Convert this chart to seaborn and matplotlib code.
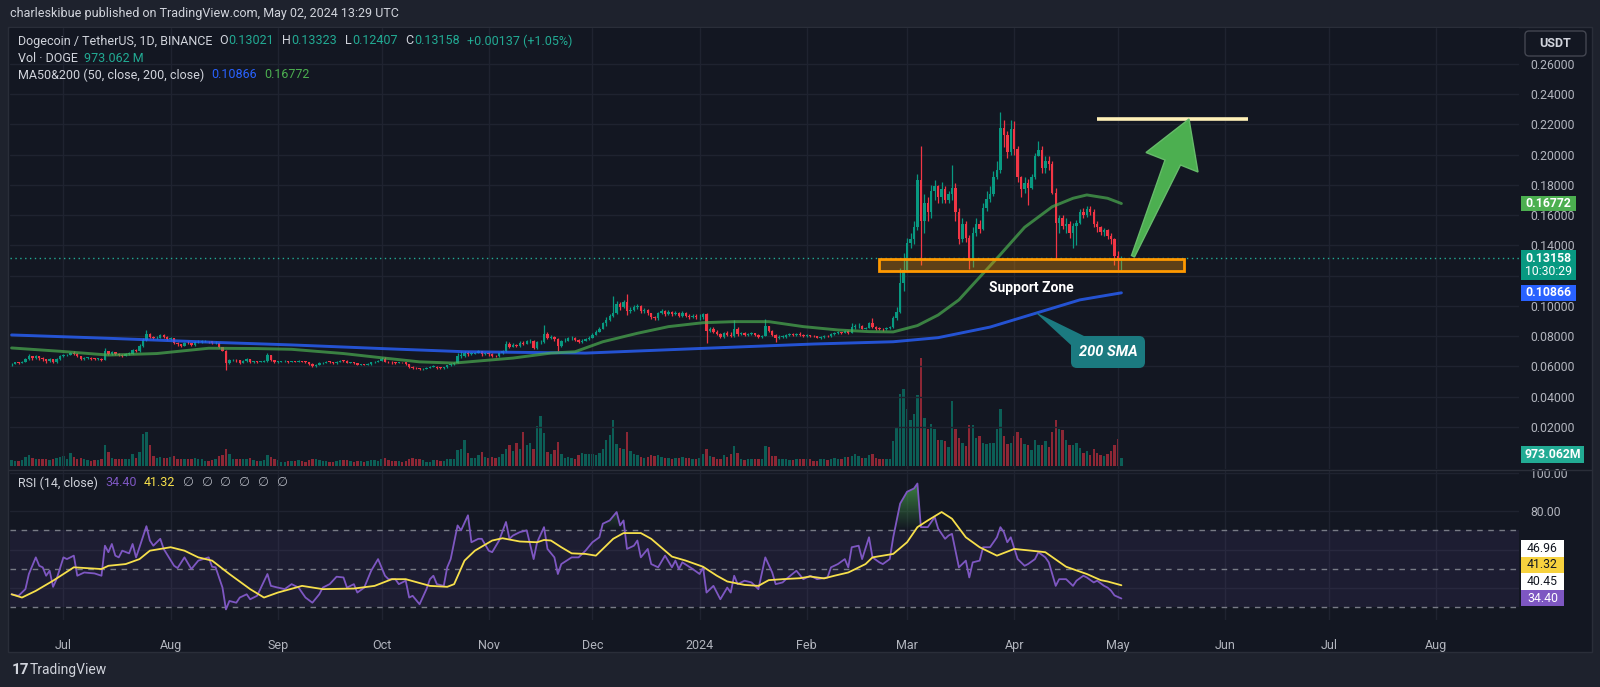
import numpy as np
import pandas as pd
import matplotlib
matplotlib.use("Agg")
import matplotlib.pyplot as plt
import matplotlib.transforms as mtransforms
from matplotlib.patches import Rectangle, Polygon, FancyBboxPatch
from matplotlib.path import Path
from matplotlib.colors import LinearSegmentedColormap
import seaborn as sns

# ---------------- data (DOGE/USDT daily, 2023-06-16 .. 2024-05-02) ----------------
start_date = "2023-06-16"
first_open = 0.0614

closes = [
    # Jun 16-30
    .0617, .0628, .0624, .0630, .0650, .0668, .0654, .0668, .0655, .0646, .0634, .0649, .0628, .0651, .0667,
    # Jul
    .0673, .0677, .0690, .0684, .0668, .0647, .0657, .0657, .0652, .0651, .0652, .0643, .0700, .0681, .0693, .0684,
    .0676, .0671, .0683, .0685, .0710, .0702, .0738, .0775, .0812, .0795, .0786, .0790, .0808, .0797, .0780,
    # Aug
    .0786, .0752, .0745, .0738, .0758, .0754, .0739, .0759, .0762, .0766, .0768, .0765, .0754, .0758, .0725, .0705,
    .0625, .0640, .0642, .0640, .0624, .0637, .0650, .0630, .0633, .0630, .0632, .0636, .0674, .0642, .0630,
    # Sep
    .0632, .0634, .0636, .0629, .0633, .0632, .0636, .0630, .0629, .0617, .0601, .0612, .0620, .0625, .0630,
    .0629, .0620, .0630, .0639, .0637, .0625, .0628, .0620, .0612, .0613, .0612, .0615, .0626, .0628, .0636,
    # Oct
    .0652, .0630, .0628, .0627, .0621, .0628, .0627, .0613, .0596, .0592, .0587, .0580, .0585, .0590, .0596, .0599,
    .0591, .0589, .0594, .0607, .0615, .0624, .0670, .0672, .0688, .0683, .0685, .0691, .0699, .0685, .0687,
    # Nov
    .0683, .0670, .0668, .0690, .0700, .0750, .0730, .0740, .0735, .0755, .0750, .0765, .0770, .0720, .0760,
    .0760, .0815, .0790, .0795, .0780, .0735, .0765, .0770, .0785, .0790, .0775, .0760, .0770, .0780, .0790,
    # Dec
    .0810, .0830, .0850, .0885, .0905, .0935, .0950, .1010, .0995, .1025, .0965, .0975, .0995, .1000, .0965, .0975,
    .0950, .0925, .0920, .0950, .0965, .0945, .0960, .0945, .0955, .0935, .0955, .0935, .0925, .0935, .0925,
    # Jan
    .0930, .0945, .0835, .0850, .0830, .0815, .0795, .0820, .0810, .0800, .0850, .0815, .0820, .0810, .0812, .0818,
    .0810, .0795, .0800, .0865, .0835, .0810, .0785, .0795, .0795, .0805, .0812, .0805, .0815, .0810, .0800,
    # Feb
    .0805, .0800, .0798, .0790, .0792, .0800, .0798, .0815, .0820, .0825, .0822, .0835, .0822, .0860, .0865,
    .0870, .0850, .0855, .0885, .0862, .0850, .0848, .0845, .0855, .0860, .0920, .0960, .1150, .1240,
    # Mar
    .1415, .1440, .1520, .1830, .1560, .1680, .1620, .1760, .1790, .1720, .1770, .1700, .1740, .1780, .1620, .1440,
    .1540, .1450, .1310, .1480, .1540, .1510, .1650, .1710, .1740, .1850, .1900, .2180, .2130, .2020, .2170,
    # Apr
    .2040, .1850, .1770, .1810, .1780, .1850, .1990, .2030, .1910, .1960, .1940, .1750, .1550, .1580, .1530,
    .1540, .1480, .1530, .1550, .1620, .1600, .1640, .1620, .1540, .1520, .1490, .1500, .1460, .1440, .1330,
    # May 1-2
    .13021, .13158,
]

highs = [
    .0622, .0632, .0631, .0633, .0655, .0680, .0672, .0678, .0670, .0660, .0650, .0655, .0652, .0655, .0675,
    .0680, .0685, .0695, .0700, .0688, .0670, .0662, .0663, .0660, .0658, .0658, .0656, .0720, .0705, .0700, .0698,
    .0690, .0680, .0690, .0692, .0715, .0712, .0745, .0790, .0840, .0818, .0800, .0798, .0815, .0812, .0800,
    .0795, .0790, .0760, .0750, .0762, .0765, .0758, .0765, .0775, .0772, .0772, .0770, .0768, .0765, .0760, .0728,
    .0708, .0648, .0650, .0650, .0642, .0640, .0655, .0652, .0638, .0636, .0636, .0640, .0690, .0675, .0645,
    .0638, .0638, .0640, .0638, .0637, .0637, .0640, .0638, .0633, .0632, .0620, .0618, .0626, .0630, .0636,
    .0634, .0632, .0634, .0645, .0645, .0640, .0632, .0630, .0622, .0618, .0616, .0620, .0632, .0634, .0640,
    .0660, .0665, .0638, .0635, .0632, .0632, .0632, .0630, .0614, .0600, .0595, .0590, .0590, .0594, .0600, .0612,
    .0602, .0595, .0598, .0612, .0620, .0628, .0690, .0700, .0700, .0700, .0692, .0698, .0710, .0702, .0695,
    .0692, .0688, .0678, .0695, .0708, .0765, .0760, .0752, .0748, .0768, .0765, .0772, .0780, .0775, .0768,
    .0775, .0874, .0830, .0805, .0800, .0785, .0772, .0785, .0795, .0800, .0795, .0780, .0780, .0790, .0800,
    .0820, .0840, .0860, .0895, .0925, .0945, .1066, .1030, .1025, .1040, .1080, .0990, .1005, .1015, .1005, .0985,
    .0980, .0955, .0935, .0960, .0980, .0975, .0975, .0965, .0965, .0960, .0965, .0960, .0945, .0945, .0945,
    .0945, .0955, .0950, .0862, .0858, .0838, .0820, .0828, .0835, .0825, .0905, .0860, .0828, .0825, .0820, .0825,
    .0822, .0815, .0808, .0913, .0870, .0840, .0815, .0805, .0805, .0812, .0820, .0818, .0822, .0825, .0815,
    .0815, .0810, .0808, .0800, .0798, .0805, .0808, .0820, .0828, .0832, .0830, .0842, .0840, .0890, .0880,
    .0885, .0872, .0862, .0892, .0920, .0868, .0858, .0855, .0862, .0868, .0935, .0990, .1250, .1350,
    .1450, .1480, .1560, .1870, .2060, .1740, .1720, .1800, .1830, .1800, .1820, .1790, .1760, .1930, .1810, .1650,
    .1580, .1560, .1470, .1520, .1580, .1570, .1680, .1760, .1790, .1890, .1960, .2285, .2230, .2160, .2230,
    .2220, .2060, .1860, .1850, .1840, .1870, .2010, .2090, .2060, .1990, .1990, .1960, .1780, .1600, .1600,
    .1580, .1560, .1550, .1570, .1640, .1650, .1660, .1660, .1640, .1560, .1530, .1515, .1510, .1480, .1450,
    .1360, .13323,
]

lows = [
    .0605, .0613, .0618, .0620, .0628, .0645, .0645, .0650, .0645, .0636, .0625, .0630, .0622, .0625, .0645,
    .0662, .0668, .0675, .0678, .0660, .0640, .0642, .0650, .0645, .0645, .0645, .0638, .0640, .0675, .0678, .0678,
    .0670, .0662, .0668, .0676, .0682, .0695, .0698, .0730, .0765, .0785, .0778, .0780, .0785, .0790, .0775,
    .0772, .0745, .0738, .0730, .0735, .0745, .0735, .0735, .0755, .0758, .0762, .0758, .0750, .0748, .0720, .0700,
    .0577, .0615, .0635, .0630, .0618, .0620, .0630, .0625, .0625, .0625, .0626, .0628, .0632, .0638, .0620,
    .0625, .0628, .0630, .0625, .0626, .0626, .0628, .0626, .0625, .0612, .0595, .0598, .0608, .0617, .0622,
    .0624, .0617, .0618, .0628, .0630, .0620, .0622, .0617, .0608, .0608, .0606, .0609, .0612, .0622, .0626,
    .0634, .0626, .0622, .0618, .0615, .0620, .0622, .0608, .0590, .0585, .0580, .0576, .0578, .0584, .0588, .0594,
    .0585, .0582, .0586, .0590, .0603, .0610, .0620, .0655, .0665, .0672, .0678, .0680, .0688, .0672, .0678,
    .0672, .0665, .0662, .0665, .0685, .0695, .0722, .0725, .0725, .0730, .0740, .0745, .0755, .0712, .0715,
    .0750, .0755, .0780, .0780, .0770, .0705, .0730, .0760, .0765, .0775, .0768, .0752, .0755, .0765, .0775,
    .0785, .0805, .0825, .0845, .0870, .0900, .0925, .0945, .0975, .0985, .0940, .0950, .0965, .0980, .0955, .0955,
    .0940, .0915, .0905, .0910, .0945, .0935, .0940, .0935, .0940, .0925, .0930, .0925, .0915, .0920, .0915,
    .0905, .0915, .0755, .0825, .0822, .0805, .0788, .0790, .0800, .0792, .0795, .0800, .0808, .0802, .0802, .0805,
    .0802, .0788, .0790, .0798, .0825, .0800, .0762, .0778, .0785, .0790, .0800, .0798, .0800, .0802, .0792,
    .0795, .0795, .0792, .0785, .0782, .0788, .0792, .0796, .0810, .0815, .0812, .0818, .0815, .0820, .0845,
    .0855, .0845, .0845, .0852, .0855, .0838, .0840, .0835, .0840, .0850, .0855, .0905, .0950, .1100,
    .1230, .1380, .1410, .1500, .1270, .1480, .1560, .1580, .1700, .1680, .1680, .1680, .1680, .1700, .1560, .1410,
    .1420, .1420, .1243, .1260, .1460, .1480, .1500, .1630, .1690, .1730, .1840, .1880, .2050, .1980, .2000,
    .2000, .1820, .1720, .1750, .1670, .1770, .1840, .1990, .1880, .1880, .1900, .1740, .1320, .1480, .1510,
    .1480, .1450, .1380, .1400, .1540, .1580, .1590, .1600, .1520, .1490, .1470, .1465, .1440, .1410, .1270,
    .1240, .12407,
]

volumes_m = [  # millions of DOGE
    700, 650, 600, 700, 1100, 1300, 1000, 900, 800, 900, 800, 700, 900, 1000, 1100,
    1200, 900, 1600, 1100, 900, 1000, 800, 700, 600, 700, 700, 800, 2500, 1700, 1000, 800,
    800, 800, 900, 900, 1400, 1000, 1700, 3900, 4100, 2500, 1200, 1000, 1100, 1000, 1000,
    1100, 1200, 900, 800, 900, 800, 900, 1000, 900, 800, 600, 600, 700, 800, 1200, 1300,
    2000, 1400, 900, 800, 900, 900, 900, 1000, 700, 600, 600, 700, 1300, 1100, 800,
    700, 500, 500, 600, 600, 600, 700, 600, 500, 700, 900, 800, 700, 600, 600,
    500, 500, 600, 700, 700, 700, 600, 500, 600, 600, 500, 600, 700, 700, 600,
    900, 1000, 700, 600, 600, 600, 500, 600, 800, 1000, 900, 800, 700, 500, 500, 700,
    700, 600, 600, 800, 900, 900, 1900, 2000, 3100, 1600, 1000, 1000, 1300, 1700, 1100,
    1000, 1100, 1000, 1100, 1400, 2000, 2500, 1800, 2800, 2100, 4100, 2500, 2800, 2100, 4800,
    6000, 4000, 1700, 1400, 1900, 2900, 1400, 1000, 1100, 1000, 900, 1300, 1600, 1500, 1400,
    1400, 1300, 1600, 2000, 3100, 3700, 5500, 2600, 2200, 2100, 4100, 1800, 1500, 1300, 1100, 1000,
    1100, 1300, 1200, 1300, 1100, 1000, 1000, 900, 1000, 1000, 1100, 1000, 1000, 800, 800,
    1000, 1500, 2000, 1200, 1100, 800, 800, 1300, 1100, 1400, 2400, 1600, 800, 700, 800, 900,
    800, 900, 900, 2400, 2300, 1200, 1200, 900, 800, 800, 700, 700, 900, 800, 800,
    900, 800, 600, 600, 800, 800, 700, 800, 1000, 900, 800, 1100, 1100, 1200, 1400,
    1200, 1000, 1000, 1300, 1500, 1000, 900, 800, 800, 900, 3000, 4700, 8700, 9200,
    6900, 5500, 6300, 8500, 13000, 5800, 4400, 5100, 4400, 3100, 3100, 3000, 2300, 7800, 4400, 3400,
    2800, 2400, 4900, 4900, 3400, 3600, 2800, 2600, 2800, 2800, 4500, 6800, 3600, 2600, 2800,
    3600, 4100, 3400, 2700, 2500, 1900, 3100, 2500, 2500, 3000, 2300, 4100, 5500, 4500, 4300,
    3100, 2500, 2500, 2800, 2200, 1600, 1800, 1300, 2100, 1600, 1300, 1200, 1500, 1800, 2500,
    3200, 973,
]

ma50_dates = ["2023-06-16", "2023-06-30", "2023-07-14", "2023-07-28", "2023-08-12", "2023-08-26",
              "2023-09-05", "2023-09-20", "2023-10-01", "2023-10-12", "2023-10-22", "2023-11-08",
              "2023-11-19", "2023-11-26", "2023-12-04", "2023-12-14", "2023-12-23", "2024-01-02",
              "2024-01-11", "2024-01-21", "2024-01-31", "2024-02-10", "2024-02-19", "2024-02-26",
              "2024-03-04", "2024-03-10", "2024-03-16", "2024-03-22", "2024-03-28", "2024-04-04",
              "2024-04-12", "2024-04-18", "2024-04-22", "2024-04-28", "2024-05-02"]
ma50_vals = [0.0722, 0.0700, 0.0675, 0.0685, 0.0720, 0.0718, 0.0713, 0.0685, 0.0657, 0.0630, 0.0622,
             0.0655, 0.0688, 0.0697, 0.0763, 0.0819, 0.0863, 0.0889, 0.0896, 0.0896, 0.0863, 0.0841,
             0.0830, 0.0828, 0.0870, 0.0940, 0.1040, 0.1190, 0.1340, 0.1520, 0.1656, 0.1712, 0.1734,
             0.1712, 0.16772]

ma200_dates = ["2023-06-16", "2023-07-15", "2023-08-15", "2023-09-05", "2023-10-01", "2023-10-25",
               "2023-11-29", "2024-01-05", "2024-02-03", "2024-02-26", "2024-03-10", "2024-03-25",
               "2024-04-07", "2024-04-20", "2024-05-02"]
ma200_vals = [0.0808, 0.0785, 0.0758, 0.0742, 0.0718, 0.0697, 0.0688, 0.0722, 0.0748, 0.0763, 0.0790,
              0.0860, 0.0950, 0.1040, 0.10866]

# RSI(14): (bar index from start_date, value)
rsi_idx = [0, 2, 4, 5, 7, 8, 9, 10, 11, 12, 13, 15, 16, 18, 19, 21, 24, 26, 27, 28, 29, 30, 31, 32, 34, 35,
           36, 37, 39, 40, 41, 43, 44, 47, 48, 50, 52, 54, 57, 58, 59, 61, 62, 63, 65, 66, 68, 69, 71, 74,
           75, 77, 79, 81, 83, 85, 87, 89, 90, 92, 94, 96, 97, 99, 100, 102, 104, 106, 108, 109, 111, 112,
           114, 115, 116, 118, 120, 121, 122, 123, 125, 126, 127, 129, 130, 132, 133, 135, 136, 138, 139,
           141, 143, 144, 145, 147, 149, 151, 152, 154, 155, 157, 158, 159, 162, 164, 166, 168, 170, 171,
           173, 175, 176, 177, 178, 180, 181, 182, 184, 185, 187, 189, 191, 192, 193, 194, 197, 199, 200,
           201, 203, 205, 207, 208, 209, 210, 212, 214, 216, 218, 220, 221, 223, 224, 227, 229, 231, 233,
           236, 237, 239, 241, 242, 243, 245, 246, 248, 249, 251, 252, 254, 255, 257, 259, 261, 262, 263,
           265, 267, 268, 270, 271, 272, 274, 276, 277, 278, 280, 281, 283, 285, 286, 287, 288, 289, 291,
           293, 294, 296, 297, 299, 300, 302, 303, 305, 307, 308, 310, 311, 313, 314, 316, 317, 318, 319,
           320, 321]
rsi_vals = [36.6, 35.8, 39.3, 47.2, 55.9, 51.5, 50.7, 46.3, 48.9, 40.5, 44.5, 55.9, 55.0, 56.8, 46.3, 48.0,
            47.5, 46.3, 62.0, 58.6, 62.9, 56.8, 55.9, 59.4, 58.0, 62.9, 55.9, 61.2, 72.2, 64.7, 62.0, 65.6,
            60.3, 51.5, 50.3, 55.9, 49.8, 54.2, 55.9, 51.0, 50.7, 40.1, 28.7, 33.1, 32.2, 34.9, 36.6, 34.0,
            35.8, 47.2, 41.0, 40.1, 39.3, 41.9, 40.1, 34.9, 32.2, 36.6, 40.1, 41.9, 45.8, 45.4, 40.1, 41.9,
            37.5, 40.1, 48.9, 55.0, 46.3, 44.5, 44.5, 41.9, 43.7, 34.9, 35.8, 31.4, 39.3, 44.5, 46.3, 41.9,
            41.0, 50.7, 55.0, 72.6, 70.0, 77.9, 63.8, 65.6, 65.6, 59.4, 58.6, 64.7, 74.4, 65.6, 67.3, 69.1,
            70.0, 55.0, 63.8, 71.7, 60.3, 55.9, 47.2, 52.4, 55.9, 55.9, 59.4, 63.8, 66.4, 73.5, 75.2, 79.6,
            72.6, 75.2, 60.3, 62.0, 64.7, 55.9, 60.3, 52.4, 50.7, 56.8, 50.7, 54.2, 49.8, 53.3, 49.8, 47.2,
            50.7, 37.5, 41.0, 34.0, 40.1, 37.5, 46.3, 41.9, 43.7, 42.8, 39.3, 55.9, 48.0, 41.9, 42.8, 44.5,
            48.9, 44.5, 46.3, 44.5, 45.4, 50.7, 52.4, 55.0, 50.7, 61.2, 62.0, 55.0, 66.4, 55.9, 53.3, 52.4,
            55.0, 66.4, 84.0, 90.2, 91.9, 94.5, 71.7, 71.7, 77.0, 70.9, 65.6, 67.3, 68.2, 50.7, 54.2, 45.4,
            53.3, 54.2, 61.2, 61.2, 66.4, 71.7, 69.1, 63.8, 66.4, 55.0, 51.5, 52.4, 55.0, 58.6, 55.9, 53.3,
            41.0, 44.5, 44.5, 41.0, 43.7, 46.3, 45.4, 42.8, 43.7, 41.0, 40.1, 38.5, 36.0, 35.2, 34.4]

rsi_ma_idx = [0, 3, 7, 12, 18, 26, 28, 33, 37, 40, 46, 50, 54, 58, 63, 69, 73, 77, 84, 90, 99, 105, 110,
              114, 121, 126, 128, 131, 134, 139, 142, 147, 152, 154, 156, 159, 162, 166, 169, 171, 174,
              177, 182, 185, 189, 191, 195, 200, 204, 207, 212, 216, 219, 223, 228, 231, 235, 238, 242,
              247, 249, 255, 259, 262, 265, 269, 272, 276, 280, 285, 290, 295, 299, 305, 311, 315, 317, 321]
rsi_ma_vals = [36.6, 34.9, 38.4, 43.7, 50.7, 49.8, 51.5, 52.4, 55.0, 59.4, 61.2, 59.4, 55.9, 54.2, 47.2,
               39.3, 34.9, 37.5, 41.0, 39.3, 39.6, 41.0, 44.5, 44.5, 41.0, 40.5, 41.9, 54.2, 59.4, 64.7,
               65.9, 64.2, 63.8, 65.0, 64.7, 61.2, 58.0, 57.7, 56.8, 60.3, 65.6, 68.6, 68.6, 65.6, 59.4,
               56.3, 54.2, 51.0, 46.3, 43.3, 41.5, 41.0, 44.0, 44.5, 45.0, 45.9, 44.9, 46.3, 48.0, 52.4,
               55.9, 57.7, 63.8, 71.7, 75.2, 79.6, 76.1, 66.4, 61.2, 56.8, 60.3, 59.4, 58.6, 51.0, 47.2,
               44.0, 43.3, 41.32]

month_dates = ["2023-07-01", "2023-08-01", "2023-09-01", "2023-10-01", "2023-11-01", "2023-12-01",
               "2024-01-01", "2024-02-01", "2024-03-01", "2024-04-01", "2024-05-01", "2024-06-01",
               "2024-07-01", "2024-08-01"]
month_labels = ["Jul", "Aug", "Sep", "Oct", "Nov", "Dec", "2024", "Feb", "Mar", "Apr", "May", "Jun", "Jul", "Aug"]

price_ticks = [0.02, 0.04, 0.06, 0.08, 0.10, 0.12, 0.14, 0.16, 0.18, 0.20, 0.22, 0.24, 0.26]
hidden_price_ticks = [0.12]          # covered by the last-price label in the reference
last_close, last_ma50, last_ma200, last_vol = 0.13158, 0.16772, 0.10866, "973.062M"
support_zone = (0.1231, 0.1310)
target_level = 0.2233
rsi_labels = [("46.96", "#ffffff", "#131722"), ("41.32", "#f7d23e", "#131722"),
              ("40.45", "#ffffff", "#131722"), ("34.40", "#7e57c2", "#ffffff")]

# ---------------- style ----------------
sns.set_theme(style="dark")
plt.rcParams["font.family"] = ["Roboto", "DejaVu Sans"]

W, H = 1600, 687
PAGE = "#1e222d"
BG = "#131722"
BORDER = "#2a2e39"
GRID = "#1f2330"
TXT = "#b2b5be"
LEG = "#d1d4dc"
UP, DOWN = "#089981", "#f23645"
TEAL_TXT = "#22ab94"
FS = 9

start = pd.Timestamp(start_date)
def to_idx(ds):
    return np.array([(pd.Timestamp(d) - start).days for d in ds], dtype=float)

n = min(len(closes), len(highs), len(lows), len(volumes_m))
c = np.array(closes[:n]); hi = np.array(highs[:n]); lo = np.array(lows[:n]); vol = np.array(volumes_m[:n], float)
o = np.concatenate([[first_open], c[:-1]])
hi = np.maximum(hi, np.maximum(o, c)); lo = np.minimum(lo, np.minimum(o, c))
idx = np.arange(n)
up = c >= o
col = np.where(up, UP, DOWN)

fig = plt.figure(figsize=(W / 100, H / 100), dpi=100, facecolor=PAGE)
PX = mtransforms.Affine2D().scale(1.0 / W, -1.0 / H).translate(0, 1) + fig.transFigure
renderer = fig.canvas.get_renderer()

def pxaxes(x0, y0, x1, y1):
    return fig.add_axes([x0 / W, 1 - y1 / H, (x1 - x0) / W, (y1 - y0) / H])

def ptext(x, y, s, color=LEG, fs=FS, ha="left", va="center", weight="normal", style="normal", z=12):
    return fig.text(x, y, s, transform=PX, color=color, fontsize=fs, ha=ha, va=va,
                    fontweight=weight, fontstyle=style, zorder=z)

def seq_text(x, y, pieces, fs=FS):
    for s, clr, gap in pieces:
        t = ptext(x, y, s, color=clr, fs=fs)
        x += t.get_window_extent(renderer).width + gap

def pbox(x0, y0, x1, y1, fc, ec="none", lw=0, z=10):
    fig.add_artist(Rectangle((x0, y0), x1 - x0, y1 - y0, transform=PX, facecolor=fc,
                             edgecolor=ec, lw=lw, zorder=z))

# frame
pbox(8, 27, 1592, 652, BG, BORDER, 1, z=-1)
fig.add_artist(plt.Line2D([8, 1592], [470, 470], transform=PX, color=BORDER, lw=1, zorder=1))

XL = (-0.46, 436.0)
PYL = (-0.00786, 0.28381)
RYL = (23.16, 101.05)

# volume axes (behind price)
axv = pxaxes(10, 28, 1519, 469)
axv.set_facecolor(BG)
axv.bar(idx, vol, width=0.7, color=col, alpha=0.55, linewidth=0)
axv.set_xlim(*XL)
axv.set_ylim(-360, 438 * 120)
axv.set_xticks([]); axv.set_yticks([])
for s in axv.spines.values():
    s.set_visible(False)

# price axes
ax = pxaxes(10, 28, 1519, 469)
ax.set_facecolor("none")
mi = to_idx(month_dates)
ax.set_xticks(mi)
ax.set_yticks(price_ticks)
ax.grid(True, color=GRID, lw=1)
ax.set_axisbelow(True)
ax.tick_params(axis="x", length=0, labelbottom=False)
ax.yaxis.tick_right()
ax.tick_params(axis="y", length=0, colors=TXT, labelsize=8.8, pad=8)
ax.set_yticklabels(["" if t in hidden_price_ticks else f"{t:.5f}" for t in price_ticks])
for s in ax.spines.values():
    s.set_visible(False)

ax.vlines(idx, lo, hi, colors=col, lw=0.9, zorder=3)
ax.bar(idx, np.maximum(np.abs(c - o), 0.0004), bottom=np.minimum(o, c), width=0.7,
       color=col, linewidth=0, zorder=4)
sns.lineplot(x=to_idx(ma200_dates), y=ma200_vals, ax=ax, color="#2962ff", alpha=0.8, linewidth=2.1,
             zorder=5, legend=False)
sns.lineplot(x=to_idx(ma50_dates), y=ma50_vals, ax=ax, color="#4caf50", alpha=0.7, linewidth=2.1,
             zorder=5, legend=False)
ax.axhline(last_close, color=TEAL_TXT, ls=(0, (1, 2.5)), lw=1, zorder=2)

# support zone and target
zx0, zx1 = 251, 339
ax.add_patch(Rectangle((zx0, support_zone[0]), zx1 - zx0, support_zone[1] - support_zone[0],
                       facecolor=(1.0, 0.6, 0.0, 0.32), edgecolor=(1.0, 0.6, 0.0, 1.0), lw=2, zorder=6))
ax.hlines(target_level, 314, 357.5, color="#fff1b8", lw=2.6, zorder=6)
ax.set_xlim(*XL); ax.set_ylim(*PYL)
ax.set_xlabel(""); ax.set_ylabel("")

# RSI axes
axr = pxaxes(10, 471, 1519, 620)
axr.set_facecolor(BG)
axr.set_xticks(mi)
axr.set_xticklabels(month_labels)
axr.set_yticks([40, 60, 80, 100])
axr.set_yticklabels(["", "", "80.00", "100.00"])
axr.grid(True, color=GRID, lw=1)
axr.set_axisbelow(True)
axr.yaxis.tick_right()
axr.tick_params(axis="y", length=0, colors=TXT, labelsize=8.8, pad=8)
axr.tick_params(axis="x", length=0, colors=TXT, labelsize=9, pad=14)
for s in axr.spines.values():
    s.set_visible(False)
axr.axhspan(30, 70, color="#7e57c2", alpha=0.10, lw=0, zorder=1)
for lvl in (70, 50, 30):
    axr.axhline(lvl, color="#787b86", ls=(0, (4, 4)), lw=1, zorder=2)

rx = np.array(rsi_idx, float); ry = np.array(rsi_vals, float)
def grad_fill(where, y0, y1, rgb, strong_top):
    poly = axr.fill_between(rx, ry, y0, where=where, interpolate=True, facecolor="none", edgecolor="none")
    paths = [p for p in poly.get_paths() if len(p.vertices) > 2]
    if not paths:
        return
    comp = Path.make_compound_path(*paths)
    g = np.linspace(0, 1, 256).reshape(-1, 1)
    cols = [(*rgb, 0.0), (*rgb, 0.85)] if strong_top else [(*rgb, 0.85), (*rgb, 0.0)]
    cmap = LinearSegmentedColormap.from_list("g", cols)
    lo_, hi_ = min(y0, y1), max(y0, y1)
    im = axr.imshow(g, extent=[rx.min(), rx.max(), lo_, hi_], origin="lower", aspect="auto",
                    cmap=cmap, zorder=2.5, interpolation="bilinear")
    im.set_clip_path(comp, transform=axr.transData)

grad_fill(ry > 70, 70, 100, (0.30, 0.69, 0.31), True)
grad_fill(ry < 30, 30, 0, (0.95, 0.21, 0.27), False)
sns.lineplot(x=rx, y=ry, ax=axr, color="#7e57c2", linewidth=1.3, zorder=4, legend=False)
sns.lineplot(x=rsi_ma_idx, y=rsi_ma_vals, ax=axr, color="#f7e04b", linewidth=1.3, zorder=5, legend=False)
axr.set_xlim(*XL); axr.set_ylim(*RYL)
axr.set_xlabel(""); axr.set_ylabel("")

# ---------------- right-axis value labels ----------------
fig.add_artist(FancyBboxPatch((1525, 31), 61, 25, boxstyle="round,pad=0,rounding_size=4", transform=PX,
                              facecolor=BG, edgecolor="#434651", lw=1, zorder=10))
ptext(1555.5, 43.5, "USDT", color=LEG, fs=9, ha="center", weight="bold")

pbox(1521, 196, 1576, 211, "#4caf50")
ptext(1548.5, 203.5, "0.16772", color="white", fs=8.8, ha="center", weight="bold")
pbox(1521, 250, 1576, 280, "#089981")
ptext(1548.5, 258.5, "0.13158", color="white", fs=8.8, ha="center", weight="bold")
ptext(1548.5, 271.5, "10:30:29", color="white", fs=8.8, ha="center")
pbox(1521, 285, 1576, 301, "#2962ff")
ptext(1548.5, 293, "0.10866", color="white", fs=8.8, ha="center", weight="bold")
pbox(1521, 446, 1584, 463, "#22ab94")
ptext(1552.5, 454.5, last_vol, color="white", fs=8.8, ha="center", weight="bold")

ry0 = 540
for txt, fc, tc in rsi_labels:
    pbox(1521, ry0, 1564, ry0 + 16.5, fc)
    ptext(1542.5, ry0 + 8.5, txt, color=tc, fs=8.8, ha="center")
    ry0 += 16.5

# ---------------- drawings ----------------
arrow = [(1131.5, 255.5), (1165.0, 160.0), (1146.0, 152.5), (1189.0, 119.0),
         (1198.0, 172.0), (1180.5, 165.0), (1134.5, 257.0)]
fig.add_artist(Polygon(arrow, closed=True, transform=PX, facecolor="#4caf50", edgecolor="#66bb6a",
                       lw=1, zorder=9))
fig.add_artist(Polygon([(1035, 312), (1086, 337), (1072, 346)], closed=True, transform=PX,
                       facecolor="#1b7a80", edgecolor="none", zorder=9))
fig.add_artist(FancyBboxPatch((1071, 336), 74, 32, boxstyle="round,pad=0,rounding_size=6", transform=PX,
                              facecolor="#1b7a80", edgecolor="none", zorder=9))
ptext(1108, 352, "200 SMA", color="white", fs=10.5, ha="center", weight="bold", style="italic")
ptext(1031, 288, "Support Zone", color="white", fs=10, ha="center", weight="bold")

# ---------------- legends / header ----------------
ptext(10, 14, "charleskibue published on TradingView.com, May 02, 2024 13:29 UTC", color=LEG, fs=9)
seq_text(18, 41, [("Dogecoin / TetherUS, 1D, BINANCE", LEG, 7), ("O", LEG, 0.5), ("0.13021", TEAL_TXT, 8),
                  ("H", LEG, 0.5), ("0.13323", TEAL_TXT, 8), ("L", LEG, 0.5), ("0.12407", TEAL_TXT, 8),
                  ("C", LEG, 0.5), ("0.13158", TEAL_TXT, 7), ("+0.00137 (+1.05%)", TEAL_TXT, 0)])
seq_text(18, 58, [("Vol · DOGE", LEG, 6), ("973.062 M", TEAL_TXT, 0)])
seq_text(18, 75, [("MA50&200 (50, close, 200, close)", LEG, 7), ("0.10866", "#2962ff", 7),
                  ("0.16772", "#4caf50", 0)])
seq_text(18, 483, [("RSI (14, close)", LEG, 7), ("34.40", "#7e57c2", 7), ("41.32", "#f7e04b", 7)]
         + [("\u2205", TXT, 8)] * 6)

ptext(12, 670, "17", color="#d1d4dc", fs=11, weight="bold")
ptext(30, 670, "TradingView", color="#d1d4dc", fs=10)

fig.savefig("out.png", dpi=100, facecolor=fig.get_facecolor())
